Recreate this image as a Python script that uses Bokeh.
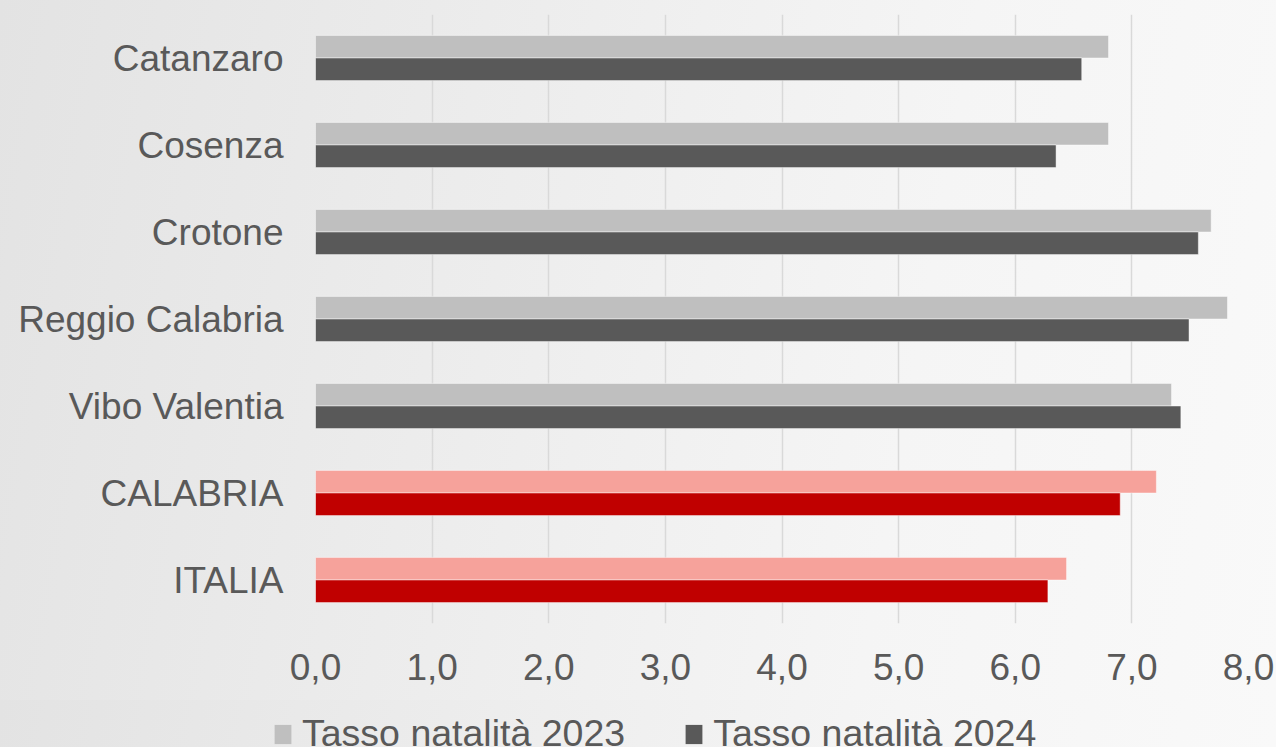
from bokeh.plotting import figure
from bokeh.layouts import column
from bokeh.models import (ColumnDataSource, FixedTicker, Legend, LegendItem, FactorRange, Range1d)
from bokeh.transform import dodge
from bokeh.embed import file_html
from bokeh.resources import INLINE

# ---- data ----
categories = ["Catanzaro", "Cosenza", "Crotone", "Reggio Calabria", "Vibo Valentia", "CALABRIA", "ITALIA"]
tasso_2023 = [6.80, 6.80, 7.68, 7.82, 7.34, 7.21, 6.44]
tasso_2024 = [6.57, 6.35, 7.57, 7.49, 7.42, 6.90, 6.28]
series_names = ["Tasso natalità 2023", "Tasso natalità 2024"]
x_ticks = [0, 1, 2, 3, 4, 5, 6, 7, 8]
x_tick_labels = ["0,0", "1,0", "2,0", "3,0", "4,0", "5,0", "6,0", "7,0", "8,0"]
highlight = ["CALABRIA", "ITALIA"]

GRAY23, GRAY24 = "#BFBFBF", "#595959"
col23 = ["#F6A29B" if c in highlight else GRAY23 for c in categories]
col24 = ["#C00000" if c in highlight else GRAY24 for c in categories]

src = ColumnDataSource(dict(cat=categories, v23=tasso_2023, v24=tasso_2024, c23=col23, c24=col24))

FONT = "Liberation Sans"
TXT = "#595959"
BG = {"background": "linear-gradient(100deg, #e3e3e3 0%, #ececec 35%, #f5f5f5 70%, #f9f9f9 100%)"}

p = figure(width=1276, height=700, output_backend="svg", toolbar_location=None,
           y_range=FactorRange(factors=list(reversed(categories)), range_padding=0),
           x_range=Range1d(0, 8),
           min_border_left=315, min_border_right=28, min_border_top=14, min_border_bottom=77)
p.frame_align = False
p.styles = BG
p.border_fill_alpha = 0
p.background_fill_alpha = 0
p.outline_line_color = None

r23 = p.hbar(y=dodge("cat", 0.13, range=p.y_range), right="v23", left=0, height=0.26, source=src,
             fill_color="c23", line_color="white", line_alpha=0.45, line_width=1)
r24 = p.hbar(y=dodge("cat", -0.13, range=p.y_range), right="v24", left=0, height=0.26, source=src,
             fill_color="c24", line_color="white", line_alpha=0.45, line_width=1)

p.xaxis.ticker = FixedTicker(ticks=x_ticks)
p.xaxis.major_label_overrides = {t: l for t, l in zip(x_ticks, x_tick_labels)}
for ax in (p.xaxis[0], p.yaxis[0]):
    ax.axis_line_color = None
    ax.major_tick_line_color = None
    ax.minor_tick_line_color = None
    ax.major_tick_out = 0
    ax.major_tick_in = 0
    ax.major_label_text_font = FONT
    ax.major_label_text_font_size = "37px"
    ax.major_label_text_color = TXT
p.xaxis.major_label_standoff = 30
p.yaxis.major_label_standoff = 32

p.xgrid.grid_line_color = "#D9D9D9"
p.xgrid.grid_line_width = 1.5
p.ygrid.grid_line_color = None

# ---- legend strip (separate canvas so the legend is not clipped by the chart frame) ----
p2 = figure(width=1276, height=47, output_backend="svg", toolbar_location=None,
            x_range=Range1d(0, 1), y_range=Range1d(0, 1),
            x_axis_type=None, y_axis_type=None,
            min_border_left=0, min_border_right=0, min_border_top=0, min_border_bottom=0)
p2.frame_align = False
p2.styles = BG
p2.border_fill_alpha = 0
p2.background_fill_alpha = 0
p2.outline_line_color = None
p2.grid.grid_line_color = None

# proxy renderers placed outside the visible range, used only for the legend swatches
proxy = ColumnDataSource(dict(y=[-5], r=[-5]))
l23 = p2.hbar(y="y", right="r", height=1, source=proxy, fill_color=GRAY23, line_color=None)
l24 = p2.hbar(y="y", right="r", height=1, source=proxy, fill_color=GRAY24, line_color=None)

legend = Legend(items=[LegendItem(label=series_names[0], renderers=[l23]),
                       LegendItem(label=series_names[1], renderers=[l24])],
                orientation="horizontal", location=(272, -8),
                background_fill_alpha=0, border_line_color=None, padding=0, margin=0,
                spacing=58, glyph_width=21, glyph_height=24, label_standoff=9,
                label_text_font=FONT, label_text_font_size="37.5px", label_text_color=TXT)
p2.add_layout(legend, "center")

layout = column(p, p2, spacing=0)
open("out.html", "w").write(file_html(layout, INLINE))
